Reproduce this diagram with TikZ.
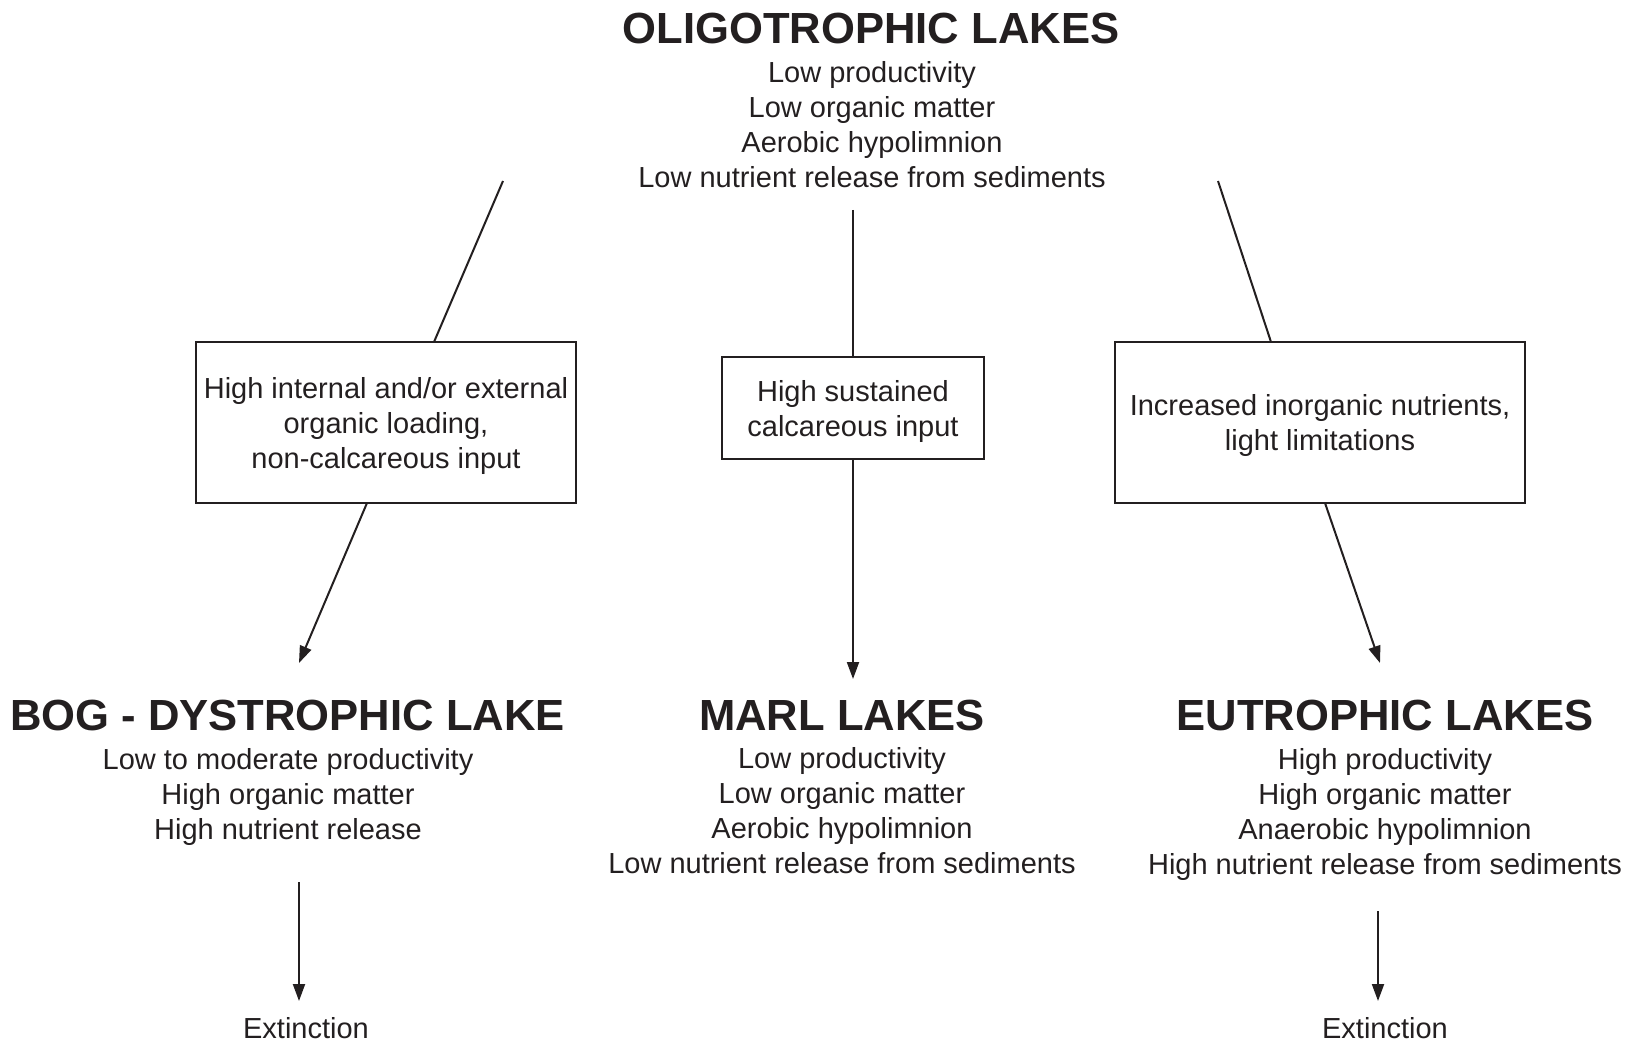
\documentclass[tikz,border=0pt]{standalone}
\usepackage{fontspec}
\setmainfont{Liberation Sans}
\usetikzlibrary{arrows.meta}
\definecolor{ink}{HTML}{231F20}
\begin{document}
\begin{tikzpicture}[x=1pt,y=-1pt,
  ttl/.style={font=\fontsize{43.6}{50}\selectfont\bfseries, text=ink, inner sep=0pt},
  body/.style={font=\fontsize{29}{35}\selectfont, text=ink, align=center, inner sep=0pt},
  cond/.style={draw=ink, line width=1.5pt, inner sep=0pt},
  condtext/.style={body, yshift=-3pt},
  conn/.style={draw=ink, line width=2pt},
  arr/.style={conn, -{Triangle[length=17pt,width=12pt]}}]
\useasboundingbox (0,0) rectangle (1633,1043);

% top
\node[ttl] (oligo) at (871,28) {OLIGOTROPHIC LAKES};
\node[body] (oligotxt) at (872,124.5) {Low productivity\\Low organic matter\\Aerobic hypolimnion\\Low nutrient release from sediments};

% condition boxes
\node[cond, minimum width=380pt, minimum height=161pt,
  label={[condtext]center:{High internal and/or external\\organic loading,\\non-calcareous input}}] (lbox) at (386,422.5) {};
\node[cond, minimum width=262pt, minimum height=102pt,
  label={[condtext]center:{High sustained\\calcareous input}}] (mbox) at (853,408) {};
\node[cond, minimum width=410pt, minimum height=161pt,
  label={[condtext]center:{Increased inorganic nutrients,\\light limitations}}] (rbox) at (1320,422.5) {};

% outcome titles
\node[ttl] (bog) at (287.5,715) {BOG - DYSTROPHIC LAKE};
\node[ttl] (marl) at (842,715) {MARL LAKES};
\node[ttl] (eutro) at (1385,715) {EUTROPHIC LAKES};

\node[body] (bogtxt) at (288,797) {Low to moderate productivity\\High organic matter\\High nutrient release};
\node[body] (marltxt) at (842,811) {Low productivity\\Low organic matter\\Aerobic hypolimnion\\Low nutrient release from sediments};
\node[body] (eutrotxt) at (1385,814) {High productivity\\High organic matter\\Anaerobic hypolimnion\\High nutrient release from sediments};

\node[body] (ext1) at (306,1028) {Extinction};
\node[body] (ext2) at (1385,1028) {Extinction};

% connector end points
\coordinate (la) at (503,181);
\coordinate (lb) at (434,342);
\coordinate (lc) at (367,503);
\coordinate (ld) at (299,663);
\coordinate (ma) at (853,210);
\coordinate (mb) at (853,357);
\coordinate (mc) at (853,459);
\coordinate (md) at (853,679);
\coordinate (ra) at (1218,181);
\coordinate (rb) at (1271,342);
\coordinate (rc) at (1325,503);
\coordinate (rd) at (1380,663);
\coordinate (le1) at (299,882);
\coordinate (le2) at (299,1001);
\coordinate (re1) at (1378,911);
\coordinate (re2) at (1378,1001);

\draw[conn] (la) -- (lb);
\draw[arr] (lc) -- (ld);
\draw[conn] (ma) -- (mb);
\draw[arr] (mc) -- (md);
\draw[conn] (ra) -- (rb);
\draw[arr] (rc) -- (rd);
\draw[arr] (le1) -- (le2);
\draw[arr] (re1) -- (re2);
\end{tikzpicture}
\end{document}
